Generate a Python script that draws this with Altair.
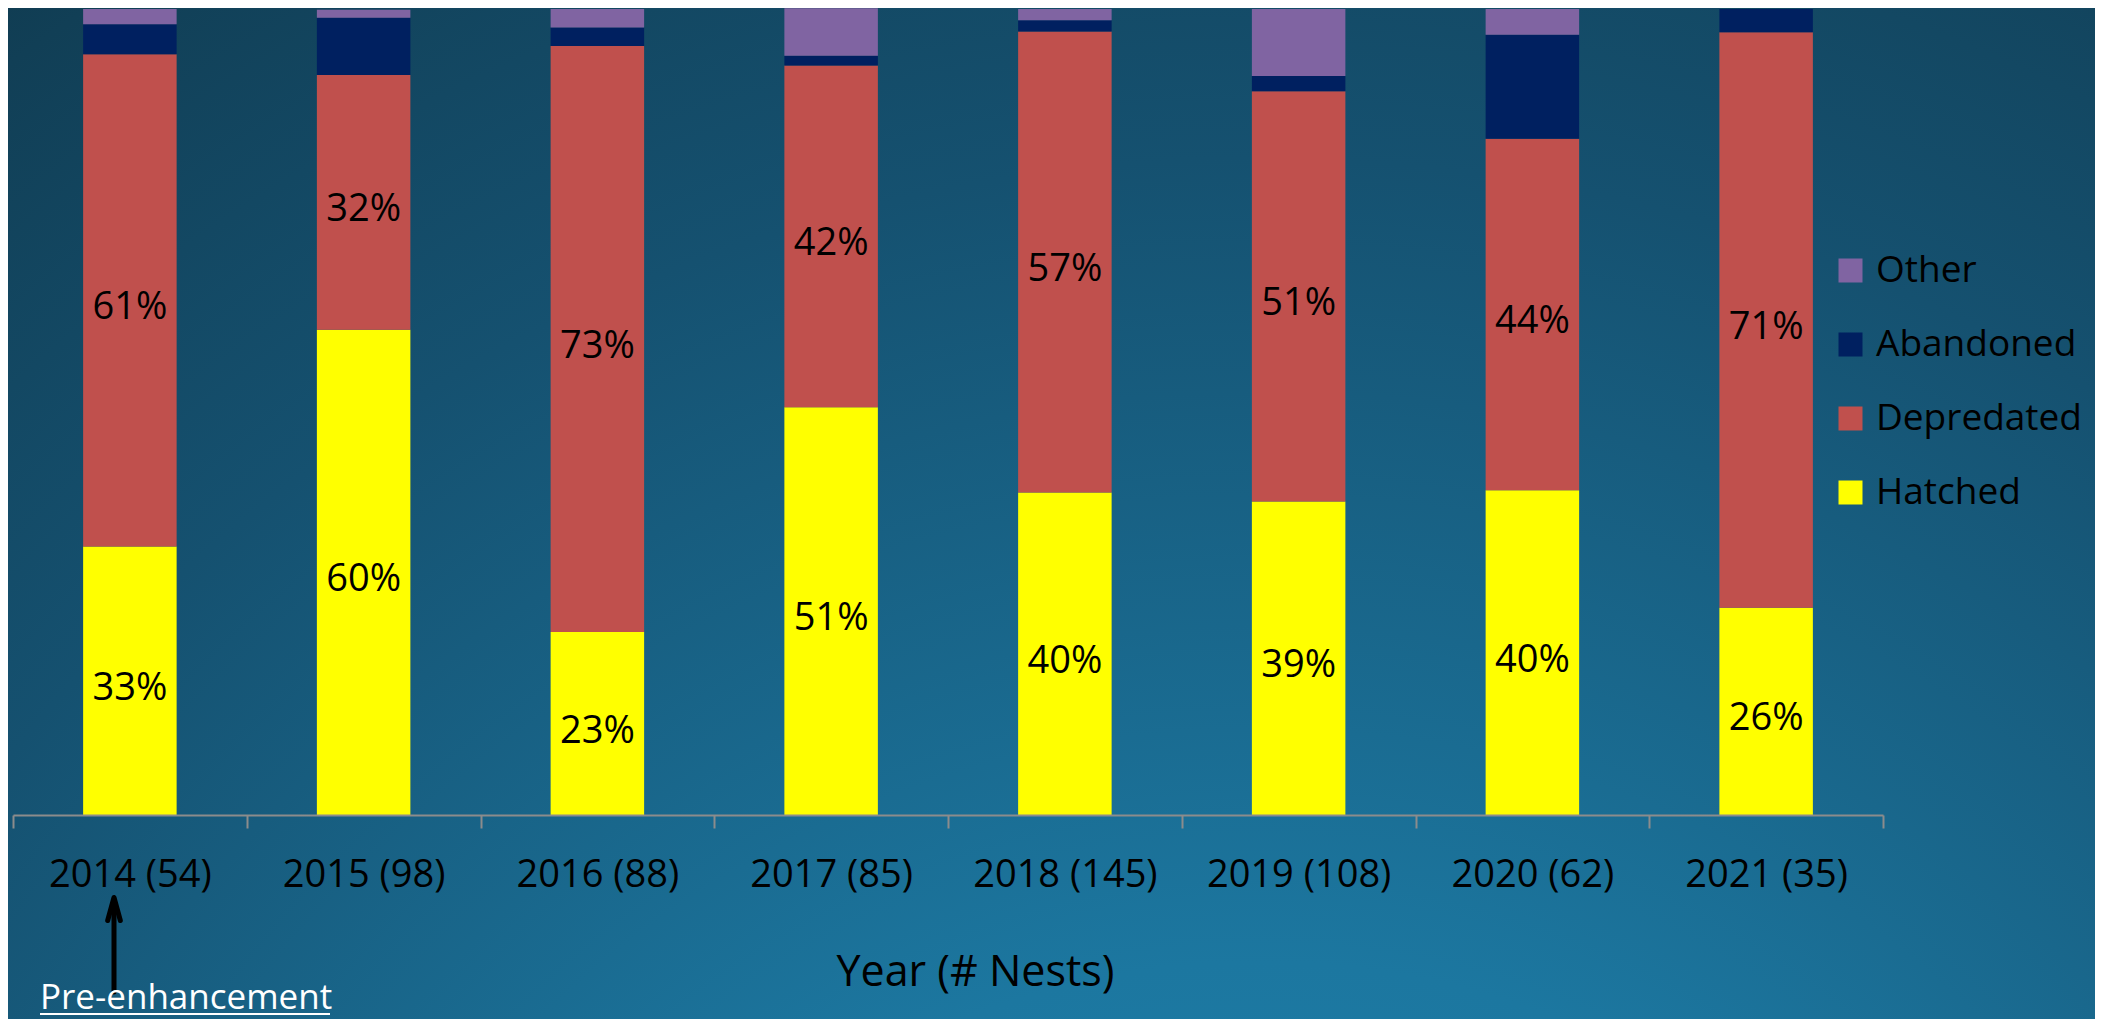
import altair as alt
import pandas as pd

years = ["2014 (54)", "2015 (98)", "2016 (88)", "2017 (85)",
         "2018 (145)", "2019 (108)", "2020 (62)", "2021 (35)"]
hatched = [33.3, 60.2, 22.7, 50.6, 40.0, 38.9, 40.3, 25.7]
depredated = [61.1, 31.6, 72.7, 42.4, 57.2, 50.9, 43.6, 71.4]
abandoned = [3.7, 7.1, 2.3, 1.2, 1.4, 1.9, 12.9, 2.9]
other = [1.9, 1.0, 2.3, 5.9, 1.4, 8.3, 3.2, 0.0]

stack_order = ["Hatched", "Depredated", "Abandoned", "Other"]
legend_order = ["Other", "Abandoned", "Depredated", "Hatched"]
legend_colors = ["#8064A2", "#002060", "#C0504D", "#FFFF00"]

rows = []
for i, yr in enumerate(years):
    for k, (s, vals) in enumerate(zip(stack_order, [hatched, depredated, abandoned, other])):
        rows.append({"year": yr, "status": s, "pct": vals[i], "order": k})
df = pd.DataFrame(rows)

W, H = 1870, 806

base = alt.Chart(df).transform_stack(
    stack="pct", groupby=["year"],
    sort=[alt.SortField("order", order="ascending")],
    as_=["y0", "y1"],
)

y_scale = alt.Scale(domain=[0, 100], nice=False, zero=True)
x_scale = alt.Scale(paddingInner=0, paddingOuter=0)

x_axis = alt.Axis(
    title="Year (# Nests)", labelAngle=0, labelFontSize=38, labelColor="black",
    labelLimit=500,
    domainColor="#8C8C8C", domainWidth=2, tickColor="#8C8C8C", tickWidth=2,
    tickSize=13, tickBand="extent", labelPadding=28,
    titleFontSize=43, titleFontWeight="normal", titleColor="black",
    titleX=962, titleY=157, titleBaseline="middle", zindex=1,
)

bars = base.mark_bar(width=alt.RelativeBandSize(0.4)).encode(
    x=alt.X("year:N", sort=years, scale=x_scale, axis=x_axis),
    y=alt.Y("y0:Q", scale=y_scale, axis=None),
    y2="y1:Q",
    color=alt.Color(
        "status:N",
        scale=alt.Scale(domain=legend_order, range=legend_colors),
        legend=alt.Legend(
            orient="none", legendX=1819, legendY=243, title=None,
            symbolType="square", symbolSize=576, symbolStrokeWidth=0,
            labelFontSize=37, labelColor="black", rowPadding=36, labelOffset=7,
            labelLimit=500,
        ),
    ),
)

labels = base.transform_filter("datum.order <= 1").transform_calculate(
    mid="(datum.y0 + datum.y1) / 2",
    lab="format(datum.pct, '.0f') + '%'",
).mark_text(fontSize=38, color="black", dy=8).encode(
    x=alt.X("year:N", sort=years, scale=x_scale, axis=x_axis),
    y=alt.Y("mid:Q", scale=y_scale, axis=None),
    text="lab:N",
)

gradient = {
    "gradient": "radial",
    "x1": 0.6, "y1": 1.1, "r1": 0.0,
    "x2": 0.6, "y2": 1.1, "r2": 1.1,
    "stops": [
        {"offset": 0.0, "color": "#2088B3"},
        {"offset": 0.35, "color": "#1C77A0"},
        {"offset": 0.7, "color": "#155170"},
        {"offset": 0.92, "color": "#113F56"},
        {"offset": 1.0, "color": "#0E374B"},
    ],
}

bg_df = pd.DataFrame({"k": [0]})
bg = alt.Chart(bg_df).mark_rect(fill=gradient).encode(
    x=alt.value(-5), x2=alt.value(2082), y=alt.value(-1), y2=alt.value(1010)
)

shaft = alt.Chart(bg_df).mark_rule(color="black", strokeWidth=5, strokeCap="round").encode(
    x=alt.value(101), y=alt.value(891), y2=alt.value(983)
)
head = alt.Chart(bg_df).mark_point(
    shape="M -0.55 1 L 0 -1 L 0.55 1", filled=False, stroke="black",
    strokeWidth=5, size=529, opacity=1, strokeCap="round", strokeJoin="round",
).encode(x=alt.value(101), y=alt.value(900))

note = alt.Chart(bg_df).mark_text(
    text="Pre-enhancement", align="left", baseline="alphabetic",
    fontSize=35, color="white",
).encode(x=alt.value(27), y=alt.value(1000))
underline = alt.Chart(bg_df).mark_rule(color="white", strokeWidth=2).encode(
    x=alt.value(27), x2=alt.value(317), y=alt.value(1005)
)

chart = alt.layer(bg, bars, labels, shaft, head, note, underline).properties(
    width=W, height=H,
    padding={"left": 5, "top": 1, "right": 212, "bottom": 204},
    autosize=alt.AutoSizeParams(type="none"),
).configure(
    font="Open Sans", background="#123F57"
).configure_view(stroke=None)

chart.save("out.html", embed_options={"renderer": "svg", "actions": False})
